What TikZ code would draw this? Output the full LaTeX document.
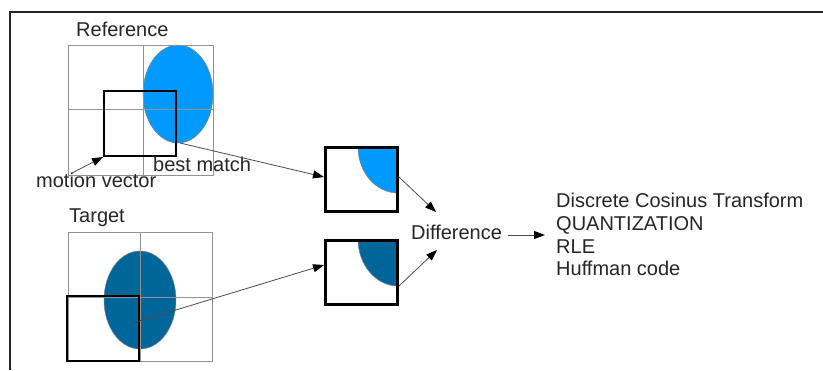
\documentclass[tikz,border=0pt]{standalone}
\usepackage{fontspec}
\setmainfont{Liberation Sans}
\usetikzlibrary{arrows.meta}
\definecolor{lightblk}{HTML}{0099FF}
\definecolor{darkblk}{HTML}{00669A}
\definecolor{gridgray}{HTML}{939393}
\tikzset{
  gridline/.style={draw=gridgray, line width=1pt},
  searchbox/.style={draw=black, line width=2.6pt},
  blockbox/.style={draw=black, line width=3pt, minimum width=72pt, minimum height=64pt, inner sep=0pt},
  lbl/.style={font=\fontsize{20}{23}\selectfont, text=black!85, inner sep=0pt, anchor=base west},
  conn/.style={draw=black!70, line width=0.8pt, -{Triangle[length=11pt,width=8pt,color=black]}},
}
\begin{document}
\begin{tikzpicture}[x=1pt,y=-1pt]
\useasboundingbox (0,0) rectangle (823,370);

% outer frame (top and left only)
\draw[line width=1.3pt, black!85] (10,370) -- (10,12) -- (823,12);

% ---- reference frame ----
\fill[lightblk] (178,94) ellipse [x radius=35, y radius=49];
\draw[black!50, line width=0.5pt] (178,94) ellipse [x radius=35, y radius=49];
\draw[gridline] (68,45) rectangle (213,175);
\draw[gridline] (143,45) -- (143,175);
\draw[gridline] (68,109) -- (213,109);
\draw[searchbox] (104,91) rectangle (176,156);
\coordinate (bmcorner) at (103,157);
\coordinate (ellbot) at (180,143);
\coordinate (mvstart) at (72,173);

\node[lbl] (reflbl) at (76,36) {Reference};
\node[lbl] (mvlbl) at (36,187) {motion vector};
\node[lbl] (bmlbl) at (153,171) {best match};

% ---- target frame ----
\fill[darkblk] (140,300) ellipse [x radius=36, y radius=49];
\draw[black!50, line width=0.5pt] (140,300) ellipse [x radius=36, y radius=49];
\draw[gridline] (68,232) rectangle (212,361);
\draw[gridline] (140,232) -- (140,361);
\draw[gridline] (68,297) -- (212,297);
\draw[searchbox] (67,296) rectangle (139,361);
\coordinate (tgtmid) at (133,323);

\node[lbl] (tgtlbl) at (69,222) {Target};

% ---- extracted blocks ----
\begin{scope}
  \clip (325,147) rectangle (398,212);
  \fill[lightblk] (398,147) ellipse [x radius=40, y radius=46];
  \draw[black!50, line width=0.5pt] (398,147) ellipse [x radius=40, y radius=46];
\end{scope}
\node[blockbox] (blkA) at (361.5,179.5) {};

\begin{scope}
  \clip (325,239) rectangle (398,305);
  \fill[darkblk] (398,239) ellipse [x radius=40, y radius=47];
  \draw[black!50, line width=0.5pt] (398,239) ellipse [x radius=40, y radius=47];
\end{scope}
\node[blockbox] (blkB) at (361.5,272) {};

\node[lbl] (diff) at (411,239) {Difference};

% ---- coding steps ----
\node[lbl] (dct) at (556,207) {Discrete Cosinus Transform};
\node[lbl] (quant) at (556,230) {QUANTIZATION};
\node[lbl] (rle) at (556,253) {RLE};
\node[lbl] (huff) at (556,275) {Huffman code};

% ---- connectors ----
\draw[conn] (mvstart) -- (bmcorner);
\draw[conn] (ellbot) -- (blkA.west |- 0,177);
\draw[conn] (tgtmid) -- (blkB.west |- 0,265);
\draw[conn] (blkA.east |- 0,177) -- (436,212);
\draw[conn] (blkB.east |- 0,286) -- (437,250);
\draw[conn] (diff.east |- 0,235) ++(6,0) -- (545,235);
\end{tikzpicture}
\end{document}
